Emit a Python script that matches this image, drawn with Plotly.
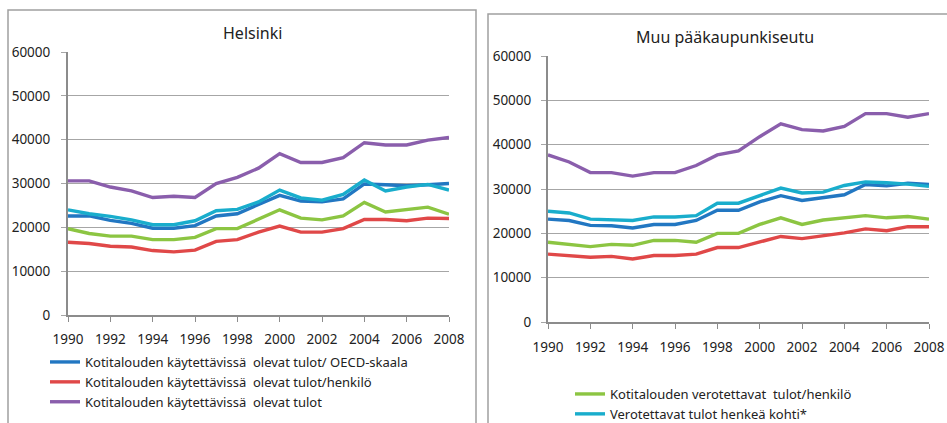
import plotly.graph_objects as go

W, H = 947, 423

years = list(range(1990, 2009))

# Helsinki
hki_oecd = [22600, 22600, 21600, 20900, 19800, 19800, 20400, 22600, 23100, 25100,
            27300, 26000, 25800, 26500, 29900, 29700, 29500, 29700, 30000]
hki_henk = [16600, 16300, 15700, 15500, 14700, 14400, 14800, 16800, 17200, 18900,
            20300, 18900, 18900, 19700, 21800, 21800, 21500, 22100, 22000]
hki_tulot = [30600, 30600, 29200, 28300, 26800, 27100, 26800, 30000, 31400, 33500,
             36800, 34800, 34800, 35900, 39300, 38800, 38800, 39900, 40500]
hki_vero_henk = [19700, 18600, 18000, 18000, 17200, 17200, 17700, 19700, 19700, 21800,
                 24000, 22100, 21700, 22600, 25700, 23500, 24000, 24600, 23000]
hki_vero_kohti = [24000, 23100, 22500, 21700, 20600, 20600, 21500, 23800, 24100, 25800,
                  28500, 26700, 26200, 27500, 30800, 28300, 29200, 29800, 28500]

# Muu pääkaupunkiseutu
muu_oecd = [23200, 22900, 21800, 21700, 21200, 22000, 22000, 22900, 25200, 25200,
            27100, 28500, 27400, 28000, 28700, 31000, 30700, 31300, 31000]
muu_henk = [15300, 15000, 14600, 14800, 14200, 15000, 15000, 15300, 16800, 16800,
            18100, 19300, 18800, 19500, 20100, 21000, 20600, 21500, 21500]
muu_tulot = [37700, 36100, 33700, 33700, 32900, 33700, 33700, 35300, 37700, 38600,
             41800, 44700, 43400, 43100, 44100, 47000, 47000, 46200, 47000]
muu_vero_henk = [18000, 17500, 17000, 17500, 17300, 18400, 18400, 18000, 20000, 20000,
                 22000, 23500, 22000, 23000, 23500, 24000, 23500, 23800, 23200]
muu_vero_kohti = [25000, 24600, 23200, 23000, 22900, 23700, 23700, 24000, 26800, 26800,
                  28500, 30200, 29100, 29300, 30800, 31600, 31400, 31100, 30600]

series_names = [
    "Kotitalouden käytettävissä  olevat tulot/ OECD-skaala",
    "Kotitalouden käytettävissä  olevat tulot/henkilö",
    "Kotitalouden käytettävissä  olevat tulot",
    "Kotitalouden verotettavat  tulot/henkilö",
    "Verotettavat tulot henkeä kohti*",
]
colors = ["#2277C2", "#E04848", "#8A5EAC", "#8CC542", "#19ADCC"]

panel_titles = ["Helsinki", "Muu pääkaupunkiseutu"]
x_ticks = list(range(1990, 2009, 2))
y_ticks = [0, 10000, 20000, 30000, 40000, 50000, 60000]

FONT = "Noto Sans"
TXT = "#222222"


def px_x(p):
    return p / W


def px_y(p):
    return 1 - p / H


fig = go.Figure()

panels = [
    ([hki_oecd, hki_henk, hki_tulot, hki_vero_henk, hki_vero_kohti], "x", "y", [0, 1, 2], "legend"),
    ([muu_oecd, muu_henk, muu_tulot, muu_vero_henk, muu_vero_kohti], "x2", "y2", [3, 4], "legend2"),
]

for data, xa, ya, shown, leg in panels:
    for i, vals in enumerate(data):
        fig.add_trace(go.Scatter(
            x=years, y=vals, mode="lines", name=series_names[i],
            line=dict(color=colors[i], width=3.4),
            xaxis=xa, yaxis=ya, legend=leg,
            showlegend=i in shown,
        ))

axis_common = dict(
    showgrid=False, zeroline=False, showline=True, linecolor="#8c8c8c", linewidth=2,
    ticks="outside", ticklen=5, tickcolor="#8c8c8c", tickwidth=1, automargin=False,
    tickfont=dict(family=FONT, size=13.5, color=TXT),
)
yaxis_common = dict(
    range=[0, 60000], tickvals=y_ticks, showgrid=True, gridcolor="#a6a6a6", gridwidth=1,
    zeroline=False, showline=True, linecolor="#8c8c8c", linewidth=2, automargin=False,
    ticks="outside", ticklen=5, tickcolor="#a6a6a6",
    tickfont=dict(family=FONT, size=13.5, color=TXT), tickformat="d",
)

fig.update_layout(
    width=W, height=H, margin=dict(l=0, r=0, t=0, b=0, autoexpand=False),
    paper_bgcolor="white", plot_bgcolor="white",
    xaxis=dict(domain=[px_x(68), px_x(449)], range=[1990, 2008], tickvals=x_ticks,
               anchor="y", ticklabelstandoff=6, **axis_common),
    yaxis=dict(domain=[px_y(315), px_y(52)], anchor="x", ticklabelstandoff=8, **yaxis_common),
    xaxis2=dict(domain=[px_x(548), px_x(929)], range=[1990, 2008], tickvals=x_ticks,
                anchor="y2", ticklabelstandoff=7, **axis_common),
    yaxis2=dict(domain=[px_y(322), px_y(56)], anchor="x2", ticklabelstandoff=7, **yaxis_common),
    legend=dict(x=px_x(45), y=px_y(347), xanchor="left", yanchor="top",
                font=dict(family=FONT, size=13, color=TXT), bgcolor="rgba(0,0,0,0)",
                tracegroupgap=0, itemwidth=30),
    legend2=dict(x=px_x(570), y=px_y(379), xanchor="left", yanchor="top",
                 font=dict(family=FONT, size=13, color=TXT), bgcolor="rgba(0,0,0,0)",
                 tracegroupgap=0, itemwidth=30),
    showlegend=True,
)

# Panel frames
fig.add_shape(type="rect", xref="paper", yref="paper",
              x0=px_x(8), x1=px_x(476), y0=-0.05, y1=px_y(10),
              line=dict(color="#a0a0a0", width=1.5), layer="below")
fig.add_shape(type="rect", xref="paper", yref="paper",
              x0=px_x(488), x1=1.05, y0=-0.05, y1=px_y(14),
              line=dict(color="#a0a0a0", width=1.5), layer="below")

# Panel titles
for title, cx, cy in zip(panel_titles, [252, 725], [33, 37]):
    fig.add_annotation(text=title, xref="paper", yref="paper", x=px_x(cx), y=px_y(cy),
                       xanchor="center", yanchor="middle", showarrow=False,
                       font=dict(family=FONT, size=16, color=TXT))

fig.write_html("out.html")
